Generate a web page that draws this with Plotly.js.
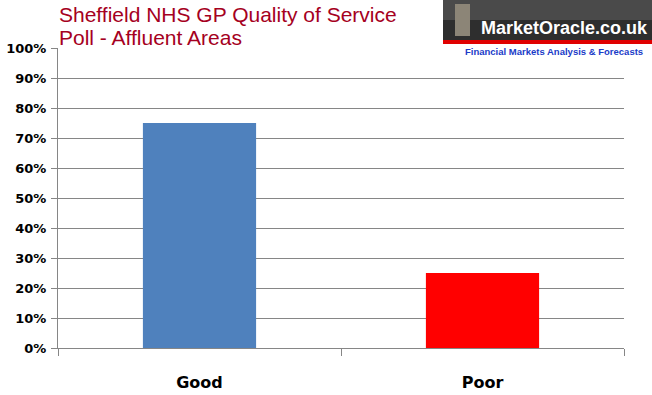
<!DOCTYPE html>
<html><head><meta charset="utf-8">
<script src="https://cdn.plot.ly/plotly-3.0.1.min.js"></script>
<style>html,body{margin:0;padding:0;background:#fff}#c{width:652px;height:395px}</style>
</head><body><div id="c"></div>
<script>
const categories = ["Good", "Poor"];
const values = [0.75, 0.25];
const barColors = ["#4F81BD", "#FF0000"];
const titleLines = ["Sheffield NHS GP Quality of Service", "Poll - Affluent Areas"];
const yTickVals = [0,0.1,0.2,0.3,0.4,0.5,0.6,0.7,0.8,0.9,1.0];
const yTickText = ["0%","10%","20%","30%","40%","50%","60%","70%","80%","90%","100%"];

const W=652,H=395,L=58,R=28,T=48,B=47;
const pw=W-L-R, ph=H-T-B;
const px = x => (x-L)/pw;
const py = y => (H-B-y)/ph;

const trace = {
  type:"bar", x:categories, y:values,
  marker:{color:barColors, line:{width:0}},
  hoverinfo:"none"
};
const titleFont = {family:"Liberation Sans, Arial, sans-serif", size:21, color:"#A50021"};
const layout = {
  width:W, height:H,
  margin:{l:L,r:R,t:T,b:B,pad:0},
  paper_bgcolor:"#fff", plot_bgcolor:"#fff",
  bargap:0.6,
  showlegend:false,
  xaxis:{
    showgrid:false, showline:true, linecolor:"#868686", linewidth:1,
    ticks:"outside", ticklen:7, tickcolor:"#868686", tickson:"boundaries",
    tickfont:{family:"DejaVu Sans, sans-serif", size:16, color:"#000", weight:"bold"},
    ticklabelstandoff:20,
    fixedrange:true
  },
  yaxis:{
    range:[0,1], tickvals:yTickVals, ticktext:yTickText,
    showgrid:true, gridcolor:"#868686", gridwidth:1,
    showline:true, linecolor:"#868686", linewidth:1,
    ticks:"outside", ticklen:6, tickcolor:"#868686",
    tickfont:{family:"DejaVu Sans, sans-serif", size:13, color:"#000", weight:"bold"},
    ticklabelstandoff:2,
    zeroline:false, fixedrange:true
  },
  shapes:[
    {type:"rect", xref:"paper", yref:"paper", x0:px(443), x1:px(652), y0:py(58), y1:py(0), fillcolor:"#fff", line:{width:0}, layer:"above"},
    {type:"rect", xref:"paper", yref:"paper", x0:px(443), x1:px(652), y0:py(40), y1:py(0), fillcolor:"#2e2e2e", line:{width:0}, layer:"above"},
    {type:"rect", xref:"paper", yref:"paper", x0:px(443), x1:px(652), y0:py(20), y1:py(0), fillcolor:"#4a4a4a", line:{width:0}, layer:"above"},
    {type:"rect", xref:"paper", yref:"paper", x0:px(443), x1:px(652), y0:py(44), y1:py(40), fillcolor:"#e00000", line:{width:0}, layer:"above"},
    {type:"rect", xref:"paper", yref:"paper", x0:px(455), x1:px(470), y0:py(36), y1:py(4), fillcolor:"#8c8577", line:{width:0}, layer:"above"}
  ],
  annotations:[
    {xref:"paper", yref:"paper", x:px(57), y:py(14), xanchor:"left", yanchor:"middle", showarrow:false,
     text:titleLines[0], font:titleFont},
    {xref:"paper", yref:"paper", x:px(57), y:py(37), xanchor:"left", yanchor:"middle", showarrow:false,
     text:titleLines[1], font:titleFont},
    {xref:"paper", yref:"paper", x:px(650), y:py(28), xanchor:"right", yanchor:"middle", showarrow:false,
     text:"MarketOracle.co.uk", font:{family:"Liberation Sans, Arial, sans-serif", size:18, color:"#fff", weight:"bold"}},
    {xref:"paper", yref:"paper", x:px(645), y:py(51), xanchor:"right", yanchor:"middle", showarrow:false,
     text:"Financial Markets Analysis & Forecasts", font:{family:"Liberation Sans, Arial, sans-serif", size:9.5, color:"#1a3cc8", weight:"bold"}}
  ]
};
Plotly.newPlot("c",[trace],layout,{staticPlot:true,displayModeBar:false});
</script></body></html>
